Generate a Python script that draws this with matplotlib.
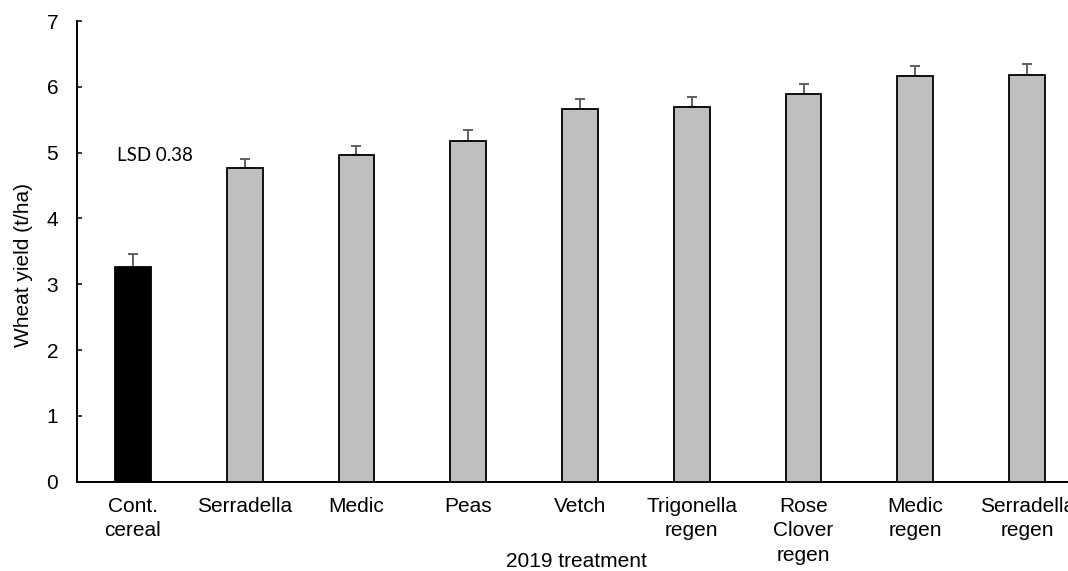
import matplotlib
matplotlib.use("Agg")
import matplotlib.pyplot as plt
import numpy as np

plt.rcParams['font.family'] = ['Liberation Sans', 'DejaVu Sans']

treatments = ["Cont.\ncereal", "Serradella", "Medic", "Peas", "Vetch",
              "Trigonella\nregen", "Rose\nClover\nregen", "Medic\nregen",
              "Serradella\nregen"]
yield_t_ha = [3.26, 4.77, 4.96, 5.17, 5.67, 5.69, 5.89, 6.16, 6.18]
std_err = [0.20, 0.14, 0.14, 0.18, 0.15, 0.15, 0.15, 0.16, 0.17]
bar_colors = ["#000000"] + ["#bfbfbf"] * 8
lsd_label = "LSD 0.38"

fig = plt.figure(figsize=(10.68, 5.71), dpi=100)
ax = fig.add_axes([0.0721, 0.1564, 0.942, 0.8068])

x = np.arange(len(treatments))
ax.bar(x, yield_t_ha, width=0.32, color=bar_colors, edgecolor="black",
       linewidth=1.3, zorder=3)
ax.errorbar(x, yield_t_ha, yerr=[np.zeros(len(std_err)), std_err], fmt="none",
            ecolor="#5f5f5f", elinewidth=1.4, capsize=3.3, capthick=1.4, zorder=2)

ax.set_xlim(-0.5, len(treatments) - 0.5)
ax.set_ylim(0, 7)
ax.set_yticks(range(0, 8))
ax.set_xticks(x)
ax.set_xticklabels(treatments, fontsize=15, linespacing=1.36)
ax.tick_params(axis="x", length=0, pad=11)
ax.tick_params(axis="y", direction="in", length=3.6, width=1.1, labelsize=15, pad=13.5)

for side in ("top", "right"):
    ax.spines[side].set_visible(False)
for side in ("left", "bottom"):
    ax.spines[side].set_linewidth(1.4)

ax.set_ylabel("Wheat yield (t/ha)", fontsize=15)
ax.yaxis.set_label_coords(-0.0437, 0.470)
ax.set_xlabel("2019 treatment", fontsize=15)
ax.xaxis.set_label_coords(0.496, -0.153)

ax.text(-0.14, 4.96, lsd_label, fontsize=13.5, family=["Lato", "DejaVu Sans"],
        ha="left", va="center")

fig.savefig("out.png", dpi=100)
